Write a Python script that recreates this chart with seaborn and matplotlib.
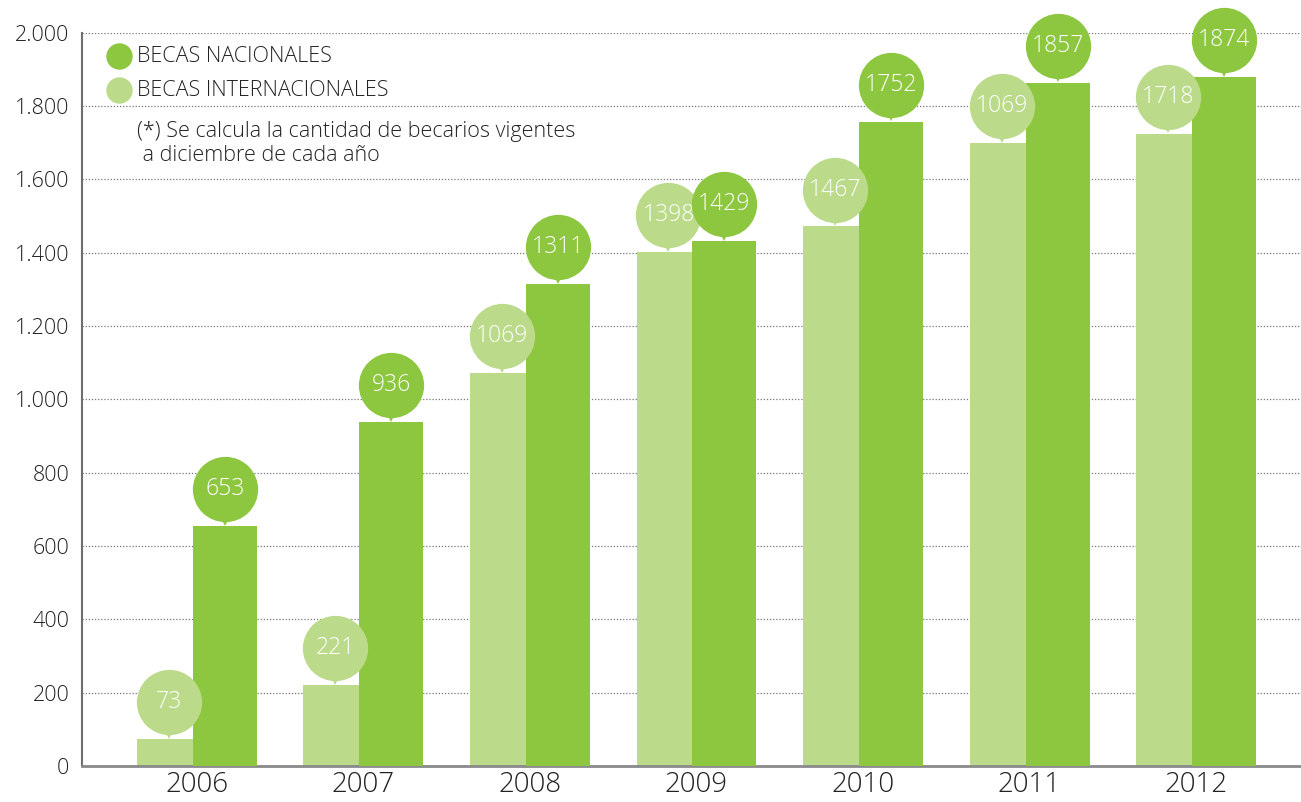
import pandas as pd
import matplotlib
matplotlib.use("Agg")
import matplotlib.pyplot as plt
import matplotlib.transforms as mtransforms
from matplotlib.ticker import FuncFormatter
import seaborn as sns

# --- DATOS ---
years = ["2006", "2007", "2008", "2009", "2010", "2011", "2012"]
becas_internacionales = [73, 221, 1072, 1402, 1472, 1700, 1725]
becas_nacionales = [655, 938, 1315, 1432, 1758, 1864, 1880]
# etiquetas tal como aparecen en las burbujas
labels_internacionales = ["73", "221", "1069", "1398", "1467", "1069", "1718"]
labels_nacionales = ["653", "936", "1311", "1429", "1752", "1857", "1874"]
series_names = ["BECAS INTERNACIONALES", "BECAS NACIONALES"]
nota = "(*) Se calcula la cantidad de becarios vigentes\n a diciembre de cada año"

COLOR_NAC = "#8DC63F"
COLOR_INT = "#BBDB8A"

df = pd.DataFrame({
    "year": years * 2,
    "value": becas_internacionales + becas_nacionales,
    "serie": [series_names[0]] * len(years) + [series_names[1]] * len(years),
})

sns.set_style("white")
plt.rcParams["font.family"] = ["Open Sans", "DejaVu Sans"]

fig = plt.figure(figsize=(13.01, 8.02), dpi=100)
ax = fig.add_axes([0.063, 0.045, 0.937, 0.914])

sns.barplot(data=df, x="year", y="value", hue="serie", hue_order=series_names,
            palette=[COLOR_INT, COLOR_NAC], width=0.672, dodge=True,
            legend=False, ax=ax, saturation=1)

# barras un poco más anchas, la nacional se superpone a la internacional
for i, cont in enumerate(ax.containers):
    for bar in cont:
        cx = bar.get_x() + bar.get_width() / 2
        bar.set_width(0.384)
        bar.set_x(cx - 0.192)
        bar.set_zorder(2 + i)
        bar.set_linewidth(0)

ax.set_xlim(-0.69, 6.63)
ax.set_ylim(0, 2000)

# burbujas con valores
bubble_off = mtransforms.offset_copy(ax.transData, fig=fig, x=0, y=26.5, units="points")
tip_off = mtransforms.offset_copy(ax.transData, fig=fig, x=0, y=4.5, units="points")
for k, (cont, labels, color) in enumerate(zip(ax.containers,
                                              [labels_internacionales, labels_nacionales],
                                              [COLOR_INT, COLOR_NAC])):
    z = 5 + 2 * k
    for bar, lab in zip(cont, labels):
        cx = bar.get_x() + bar.get_width() / 2
        top = bar.get_height()
        ax.plot(cx, top, marker="v", markersize=9, color=color, transform=tip_off,
                clip_on=False, zorder=z, markeredgewidth=0)
        ax.plot(cx, top, marker="o", markersize=47, color=color, transform=bubble_off,
                clip_on=False, zorder=z, markeredgewidth=0)
        ax.text(cx, top, lab, transform=bubble_off, ha="center", va="center",
                color="white", fontsize=16.5, fontweight="light", zorder=z + 1)

# ejes
ax.yaxis.set_major_locator(plt.MultipleLocator(200))
ax.yaxis.set_major_formatter(FuncFormatter(lambda v, p: f"{v:,.0f}".replace(",", ".")))
ax.grid(axis="y", linestyle=(0, (1, 1.5)), color="#777777", linewidth=0.9)
ax.set_axisbelow(True)
ax.set_xlabel("")
ax.set_ylabel("")
for s in ["top", "right"]:
    ax.spines[s].set_visible(False)
ax.spines["left"].set_color("#6f6f6f")
ax.spines["left"].set_linewidth(1.5)
ax.spines["bottom"].set_color("#8a8a8a")
ax.spines["bottom"].set_linewidth(2)
ax.tick_params(axis="y", length=6, width=1.2, color="#6f6f6f", labelsize=15.5,
               labelcolor="#222222", pad=3)
ax.tick_params(axis="x", length=0, labelsize=20, labelcolor="#222222", pad=4)
for t in ax.get_yticklabels() + ax.get_xticklabels():
    t.set_fontweight("light")

# leyenda
for ypos, color, name in [(0.968, COLOR_NAC, series_names[1]),
                          (0.922, COLOR_INT, series_names[0])]:
    ax.plot(0.03, ypos, marker="o", markersize=19, color=color, transform=ax.transAxes,
            clip_on=False, markeredgewidth=0)
    ax.text(0.045, ypos, name, transform=ax.transAxes, va="center", ha="left",
            fontsize=15.5, color="#222222", fontweight="light")
ax.text(0.045, 0.880, nota, transform=ax.transAxes, va="top", ha="left",
        fontsize=15.5, color="#222222", linespacing=1.2, fontweight="light")

fig.savefig("out.png", dpi=100)
